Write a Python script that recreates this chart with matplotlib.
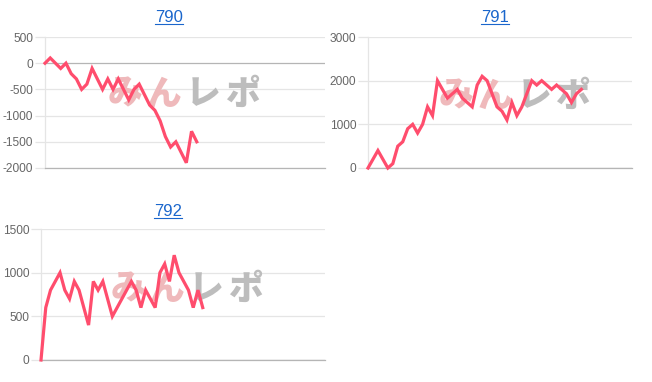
import matplotlib
matplotlib.use("Agg")
import matplotlib.pyplot as plt
from matplotlib.lines import Line2D
import numpy as np

plt.rcParams["axes.unicode_minus"] = False

W, H = 652, 382

titles = ["790", "791", "792"]
vals_790 = [0, 100, 0, -100, 0, -200, -300, -500, -400, -100, -300, -500, -300, -500, -300,
            -500, -700, -500, -400, -600, -800, -900, -1100, -1400, -1600, -1500, -1700, -1900,
            -1300, -1500]
vals_791 = [0, 200, 400, 200, 0, 100, 500, 600, 900, 1000, 800, 1000, 1400, 1200, 2000, 1800,
            1600, 1700, 1800, 1600, 1500, 1400, 1900, 2100, 2000, 1700, 1400, 1300, 1100, 1500,
            1200, 1400, 1700, 2000, 1900, 2000, 1900, 1800, 1900, 1800, 1700, 1500, 1700, 1800]
vals_792 = [0, 600, 800, 900, 1000, 800, 700, 900, 800, 600, 400, 900, 800, 900, 700, 500, 600,
            700, 800, 900, 800, 600, 800, 700, 600, 1000, 1100, 900, 1200, 1000, 900, 800, 600,
            800, 600]
yticks_790 = [-2000, -1500, -1000, -500, 0, 500]
yticks_791 = [0, 1000, 2000, 3000]
yticks_792 = [0, 500, 1000, 1500]
watermark_chars = ["み", "ん", "レ", "ポ"]

LINE = "#ff4d6d"
GRID = "#e5e5e5"
ZERO = "#b5b5b5"
TICKC = "#666666"
TITLEC = "#1a66cc"

fig = plt.figure(figsize=(W / 100, H / 100), dpi=100)

# (values, yticks, title, left, top, right, bottom px, xmax, title cx, cy, watermark x0, x1, y)
panels = [
    (vals_790, yticks_790, titles[0], 45, 37, 325, 168, 53.5, 169, 17, 105, 262, 94),
    (vals_791, yticks_791, titles[1], 368, 37, 632, 168, 53.2, 495, 17, 437, 592, 96),
    (vals_792, yticks_792, titles[2], 41, 229, 325, 360, 59.7, 168, 211, 108, 265, 289),
]

title_texts = []
for vals, yt, title, l, t, r, b, xmax, tcx, tcy, wx0, wx1, wy in panels:
    ax = fig.add_axes([l / W, (H - b) / H, (r - l) / W, (b - t) / H])
    x = np.arange(len(vals))
    ax.plot(x, vals, color=LINE, lw=2.3, solid_joinstyle="miter", zorder=4, clip_on=False)
    ax.set_xlim(0, xmax)
    ax.set_ylim(yt[0], yt[-1])
    ax.set_yticks(yt)
    ax.set_xticks([])
    for y in yt:
        c = ZERO if y == 0 else GRID
        ax.axhline(y, color=c, lw=0.9, zorder=1)
    for s in ["top", "right"]:
        ax.spines[s].set_visible(False)
    ax.spines["left"].set_color(GRID)
    ax.spines["left"].set_linewidth(0.9)
    ax.spines["bottom"].set_color(ZERO)
    ax.spines["bottom"].set_linewidth(0.9)
    ax.tick_params(axis="y", length=7, width=0.9, color=GRID, labelcolor=TICKC,
                   labelsize=8.6, pad=1.5)
    for lab in ax.get_yticklabels():
        lab.set_fontfamily("Liberation Sans")
    # watermark
    n = len(watermark_chars)
    step = (wx1 - wx0) / n
    for i, ch in enumerate(watermark_chars):
        cx = wx0 + step * (i + 0.5)
        col = "#efb9bb" if i < 2 else "#bdbdbd"
        ax.text(cx / W, (H - wy) / H, ch, transform=fig.transFigure, ha="center", va="center",
                fontsize=25, fontweight="heavy", color=col,
                family=["Noto Sans CJK JP", "DejaVu Sans"], zorder=2, clip_on=False)
    tt = fig.text(tcx / W, (H - tcy) / H, title, ha="center", va="center", fontsize=12,
                  color=TITLEC, family="Liberation Sans")
    title_texts.append(tt)

fig.canvas.draw()
renderer = fig.canvas.get_renderer()
for tt in title_texts:
    bb = tt.get_window_extent(renderer)
    yline = bb.y0 + 0.5
    fig.add_artist(Line2D([bb.x0 / W, bb.x1 / W], [yline / H, yline / H],
                          transform=fig.transFigure, color=TITLEC, lw=0.8))

fig.savefig("out.png", dpi=100)
